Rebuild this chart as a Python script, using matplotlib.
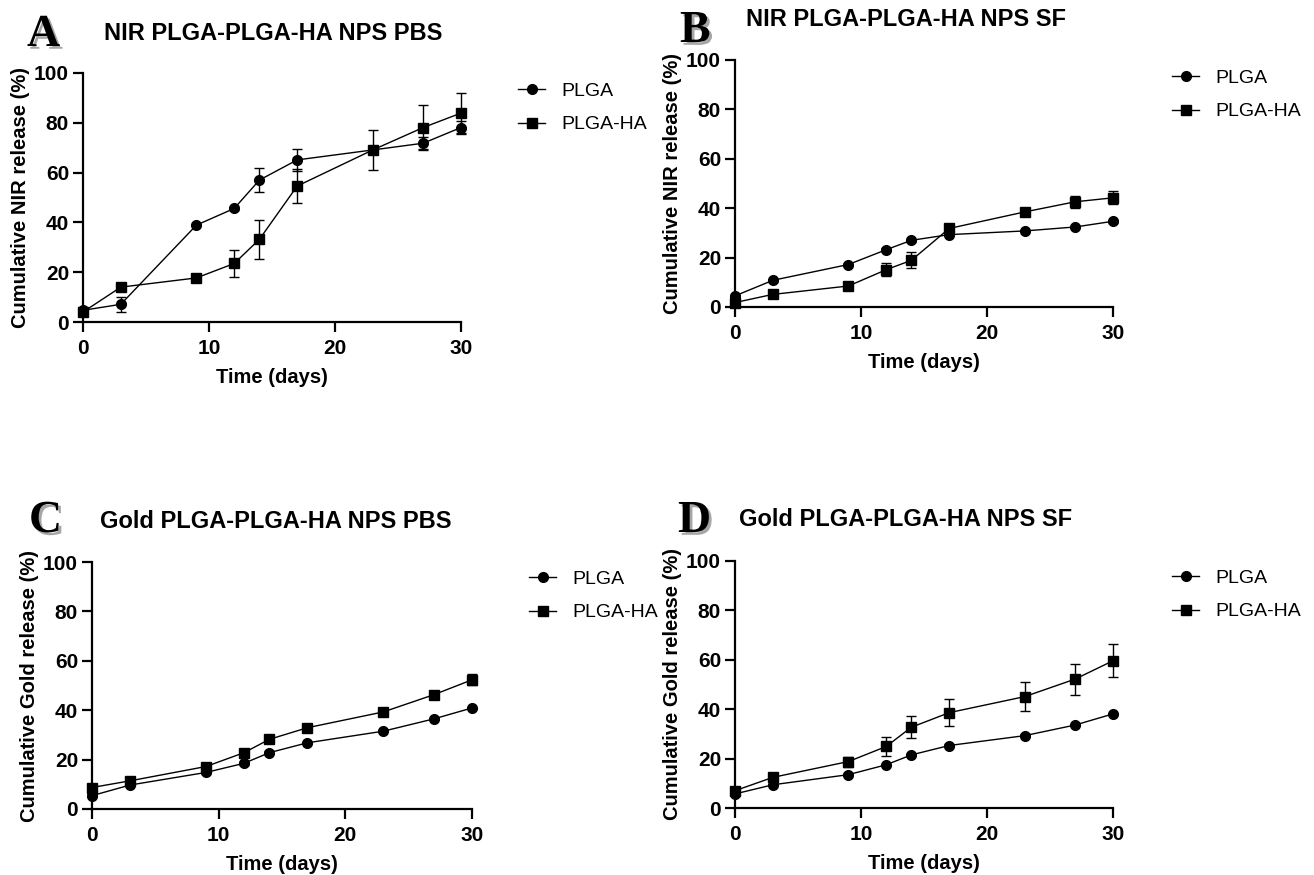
import numpy as np
import matplotlib
matplotlib.use("Agg")
import matplotlib.pyplot as plt
import matplotlib.patheffects as pe
from matplotlib.lines import Line2D

# sampling days
days = [0, 3, 9, 12, 14, 17, 23, 27, 30]

# A - NIR in PBS
nir_pbs_plga = [4.7, 7.1, 38.9, 45.6, 57.0, 65.1, 69.1, 71.8, 78.1]
nir_pbs_plga_err = [1.0, 3.0, 0.5, 0.5, 4.7, 4.5, 1.0, 2.5, 2.5]
nir_pbs_ha = [4.0, 14.0, 17.7, 23.5, 33.2, 54.6, 69.1, 78.1, 83.9]
nir_pbs_ha_err = [1.0, 1.0, 0.5, 5.5, 7.8, 7.0, 8.0, 9.0, 8.0]

# B - NIR in SF
nir_sf_plga = [4.5, 10.8, 17.2, 23.2, 27.0, 29.3, 30.8, 32.4, 34.7]
nir_sf_plga_err = [0.5, 0.5, 0.5, 0.5, 0.5, 0.5, 0.5, 0.5, 0.5]
nir_sf_ha = [1.8, 5.1, 8.5, 15.1, 18.9, 31.8, 38.5, 42.6, 44.2]
nir_sf_ha_err = [0.5, 0.5, 0.5, 2.7, 3.3, 1.0, 1.0, 2.5, 2.7]

# C - Gold in PBS
gold_pbs_plga = [5.4, 9.7, 14.8, 18.5, 22.8, 26.8, 31.5, 36.5, 40.9]
gold_pbs_plga_err = [0.5, 0.5, 0.5, 0.5, 0.5, 0.5, 0.5, 0.5, 0.5]
gold_pbs_ha = [8.7, 11.4, 17.2, 22.8, 28.2, 32.9, 39.3, 46.3, 52.3]
gold_pbs_ha_err = [0.5, 0.5, 0.5, 0.5, 0.5, 0.5, 0.8, 0.8, 2.2]

# D - Gold in SF
gold_sf_plga = [5.7, 9.4, 13.5, 17.5, 21.5, 25.3, 29.3, 33.6, 38.1]
gold_sf_plga_err = [0.5, 0.5, 0.5, 0.5, 0.5, 0.5, 0.5, 0.5, 0.5]
gold_sf_ha = [7.0, 12.4, 18.8, 24.9, 32.7, 38.6, 45.1, 52.2, 59.6]
gold_sf_ha_err = [0.5, 0.5, 2.0, 4.0, 4.5, 5.5, 6.0, 6.3, 6.7]

series_labels = ['PLGA', 'PLGA-HA']

SANS = ['Liberation Sans', 'DejaVu Sans']
SERIF = ['Liberation Serif', 'DejaVu Serif']

W, H = 1314, 875
fig = plt.figure(figsize=(W / 100, H / 100), dpi=100)


def px_axes(left, top, right, bottom):
    return fig.add_axes([left / W, 1 - bottom / H, (right - left) / W, (bottom - top) / H])


panels = [
    # letter, title, ylabel, axes box (px), letter pos, title pos, legend pos, data
    ('A', 'NIR PLGA-PLGA-HA NPS PBS', 'Cumulative NIR release (%)',
     (83, 73, 461, 322), (27, 35), (273, 33), (518, 108),
     nir_pbs_plga, nir_pbs_plga_err, nir_pbs_ha, nir_pbs_ha_err),
    ('B', 'NIR PLGA-PLGA-HA NPS SF', 'Cumulative NIR release (%)',
     (735, 60, 1113, 307), (680, 31), (906, 19), (1172, 95),
     nir_sf_plga, nir_sf_plga_err, nir_sf_ha, nir_sf_ha_err),
    ('C', 'Gold PLGA-PLGA-HA NPS PBS', 'Cumulative Gold release (%)',
     (92, 562, 472, 809), (29, 521), (276, 521), (529, 596),
     gold_pbs_plga, gold_pbs_plga_err, gold_pbs_ha, gold_pbs_ha_err),
    ('D', 'Gold PLGA-PLGA-HA NPS SF', 'Cumulative Gold release (%)',
     (735, 561, 1113, 808), (678, 521), (906, 520), (1172, 595),
     gold_sf_plga, gold_sf_plga_err, gold_sf_ha, gold_sf_ha_err),
]

for (letter, title, ylab, box, lpos, tpos, legpos,
     y1, e1, y2, e2) in panels:
    ax = px_axes(*box)
    h1 = ax.errorbar(days, y1, yerr=e1, color='black', marker='o', ms=7,
                     lw=1, elinewidth=1, capsize=3.5, capthick=1, clip_on=False,
                     zorder=3)
    h2 = ax.errorbar(days, y2, yerr=e2, color='black', marker='s', ms=7.5,
                     lw=1, elinewidth=1, capsize=3.5, capthick=1, clip_on=False,
                     zorder=3)
    for c in h1.lines[1] + h2.lines[1] + h1.lines[2] + h2.lines[2]:
        c.set_clip_on(False)

    ax.set_xlim(0, 30)
    ax.set_ylim(0, 100)
    ax.set_xticks([0, 10, 20, 30])
    ax.set_yticks([0, 20, 40, 60, 80, 100])
    for s in ['top', 'right']:
        ax.spines[s].set_visible(False)
    for s in ['left', 'bottom']:
        ax.spines[s].set_linewidth(1.6)
    ax.tick_params(width=1.6, length=7, direction='out', pad=3)
    ax.tick_params(axis='x', pad=5)
    for t in ax.get_xticklabels() + ax.get_yticklabels():
        t.set_fontfamily(SANS)
        t.set_fontweight('bold')
        t.set_fontsize(15)
    ax.set_xlabel('Time (days)', fontsize=14.5, fontweight='bold', family=SANS)
    ax.set_ylabel(ylab, fontsize=14.5, fontweight='bold', family=SANS)
    ax.xaxis.set_label_coords(0.5, -0.185)
    ax.yaxis.set_label_coords(-0.14, 0.5)

    fig.text(tpos[0] / W, 1 - tpos[1] / H, title, fontsize=17, fontweight='bold',
             family=SANS, ha='center', va='center')
    fig.text(lpos[0] / W, 1 - lpos[1] / H, letter, fontsize=33, fontweight='bold',
             family=SERIF, ha='left', va='center',
             path_effects=[pe.SimplePatchShadow(offset=(2, -2), alpha=0.35), pe.Normal()])

    handles = [Line2D([], [], color='black', lw=1, marker='o', ms=7),
               Line2D([], [], color='black', lw=1, marker='s', ms=7.5)]
    fig.legend(handles, series_labels, loc='center left',
               bbox_to_anchor=(legpos[0] / W, 1 - legpos[1] / H),
               frameon=False, borderpad=0, borderaxespad=0, handlelength=1.4,
               handletextpad=0.85, labelspacing=0.8,
               prop={'family': SANS, 'size': 14})

fig.savefig('out.png', dpi=100)
